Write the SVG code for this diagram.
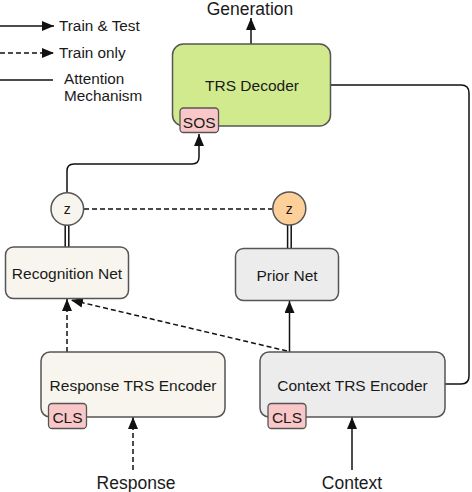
<svg xmlns="http://www.w3.org/2000/svg" width="472" height="492" viewBox="0 0 472 492">
<style>
text{font-family:"Liberation Sans",Arial,sans-serif;fill:#1a1a1a;}
.box{stroke:#555;stroke-width:1.5;}
.tag{fill:#f9c7c7;stroke:#555;stroke-width:1.3;}
.c{stroke:#111;stroke-width:1.5;fill:none;}
.d{stroke-dasharray:5,3;}
.lab{font-size:15.5px;text-anchor:middle;}
</style>
<defs>
<marker id="ah" markerUnits="userSpaceOnUse" markerWidth="12" markerHeight="10" refX="12" refY="5" orient="auto">
<path d="M0,0 L12,5 L0,10 Z" fill="#111"/>
</marker>
</defs>
<rect width="472" height="492" fill="#fff"/>
<g id="legend">
<path class="c" d="M0,26 H54" marker-end="url(#ah)"/>
<text x="59" y="31" font-size="15.3">Train &amp; Test</text>
<path class="c d" d="M0,53 H54" marker-end="url(#ah)"/>
<text x="59" y="58" font-size="15.3">Train only</text>
<path class="c" d="M0,80 H53"/>
<text x="64" y="84" font-size="15.3">Attention</text>
<text x="64" y="101" font-size="15.3">Mechanism</text>
</g>
<g id="connectors">
<path class="c" d="M251,44 V18" marker-end="url(#ah)"/>
<path class="c" d="M67,192 V171 Q67,164 74,164 H192 Q199,164 199,157 V134" marker-end="url(#ah)"/>
<path class="c" d="M330,85 H461 Q469,85 469,93 V376 Q469,384 461,384 H445"/>
<path class="c d" d="M84,209 H272"/>
<path class="c" d="M65.2,225 V247 M68.8,225 V247"/>
<path class="c" d="M287.6,225 V248 M291.2,225 V248"/>
<path class="c d" d="M67,352 V299" marker-end="url(#ah)"/>
<path class="c d" d="M287,351 L71,300" marker-end="url(#ah)"/>
<path class="c" d="M289.5,352 V301" marker-end="url(#ah)"/>
<path class="c d" d="M133,470 V417" marker-end="url(#ah)"/>
<path class="c" d="M352,470 V417" marker-end="url(#ah)"/>
</g>
<text x="250" y="15" font-size="17.5" text-anchor="middle">Generation</text>
<g id="decoder">
<rect class="box" x="172.5" y="44" width="158" height="82" rx="11" fill="#d1ea8e"/>
<text class="lab" x="252" y="91">TRS Decoder</text>
<rect class="tag" x="180" y="108" width="38.5" height="24.5" rx="3.5"/>
<text x="199.2" y="127.5" font-size="15.5" text-anchor="middle">SOS</text>
</g>
<g id="z-left">
<circle class="box" cx="67.3" cy="209" r="16.3" fill="#f7f5ed"/>
<text x="67.3" y="214" font-size="14" text-anchor="middle">z</text>
</g>
<g id="z-right">
<circle class="box" cx="289.3" cy="208.5" r="16.5" fill="#fdcf99"/>
<text x="289.3" y="213.5" font-size="14" text-anchor="middle">z</text>
</g>
<g id="recognition">
<rect class="box" x="5.5" y="247" width="123" height="51.5" rx="8" fill="#f7f5ed"/>
<text class="lab" x="67" y="279">Recognition Net</text>
</g>
<g id="prior">
<rect class="box" x="235.5" y="248.5" width="103" height="52" rx="8" fill="#ececec"/>
<text class="lab" x="287" y="280.5">Prior Net</text>
</g>
<g id="response-encoder">
<rect class="box" x="41" y="352" width="184" height="65" rx="9" fill="#f7f5ed"/>
<text class="lab" x="133" y="391">Response TRS Encoder</text>
<rect class="tag" x="48.5" y="403.5" width="38" height="25" rx="3.5"/>
<text x="67.5" y="422.5" font-size="15.5" text-anchor="middle">CLS</text>
</g>
<g id="context-encoder">
<rect class="box" x="260" y="352" width="185" height="65" rx="9" fill="#ececec"/>
<text class="lab" x="352.5" y="391">Context TRS Encoder</text>
<rect class="tag" x="268" y="403.5" width="38" height="25" rx="3.5"/>
<text x="287" y="422.5" font-size="15.5" text-anchor="middle">CLS</text>
</g>
<text x="136" y="489" font-size="17.5" text-anchor="middle">Response</text>
<text x="352" y="489" font-size="17.5" text-anchor="middle">Context</text>
</svg>
